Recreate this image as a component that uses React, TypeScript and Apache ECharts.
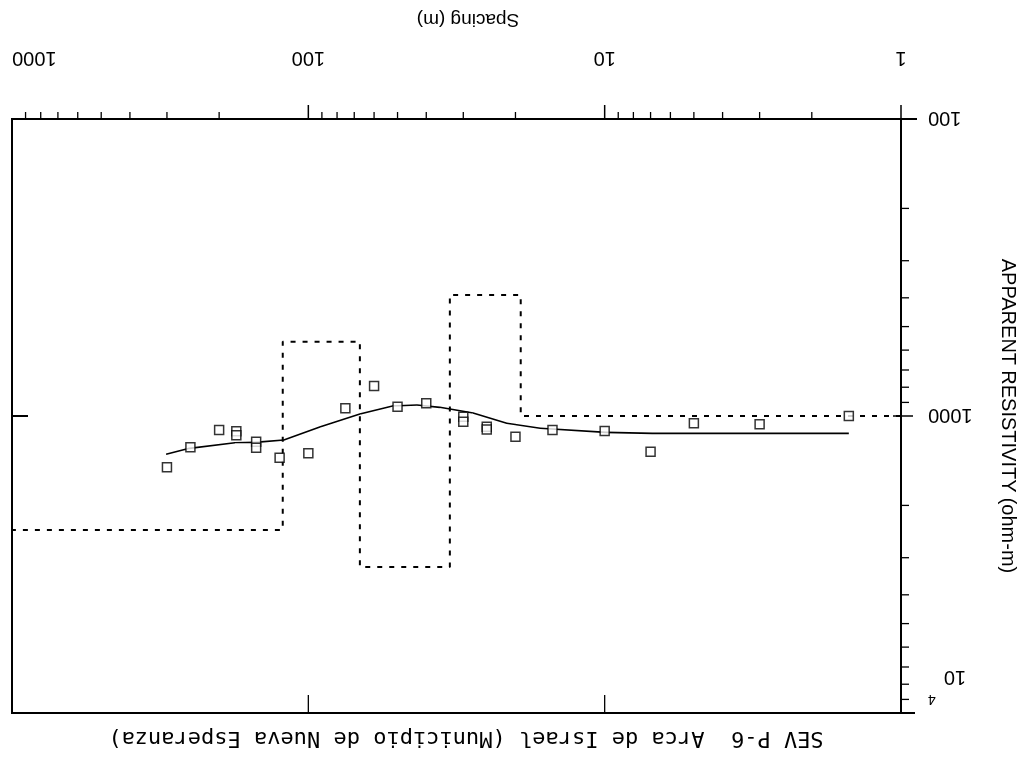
import React, { useEffect, useRef } from "react";
import * as echarts from "echarts";

// Observed apparent resistivity (Schlumberger AB/2 spacing, m ; ohm-m)
const spacing = [1.5, 3, 5, 7, 10, 15, 20, 25, 25, 30, 30, 40, 50, 60, 75, 100, 125, 150, 150, 175, 175, 200, 250, 300];
const apparentRes = [1000, 1066, 1058, 1319, 1123, 1115, 1174, 1086, 1110, 1006, 1045, 906, 930, 792, 942, 1336, 1382, 1221, 1279, 1125, 1160, 1115, 1275, 1489];

// Calculated (model) curve
const modelSpacing = [1.5, 6.9, 9.9, 16.5, 21.4, 27.8, 36, 43, 52, 67, 91, 121, 151, 177, 252, 302];
const modelRes = [1144, 1144, 1135, 1100, 1058, 977, 935, 918, 925, 985, 1086, 1205, 1227, 1230, 1285, 1346];

// Layered model
const layerRes = [1000, 391, 3224, 562, 2420];
const layerDepth = [19.2, 33.3, 67, 122];

// Axis ranges / ticks
const xMin = 1, xMax = 1000;
const yMin = 100, yMax = 10000;
const xDecades = [1, 10, 100];
const yDecades = [100, 1000];
const minorMult = [2, 3, 4, 5, 6, 7, 8, 9];

const titleText = "SEV P-6  Arca de Israel (Municipio de Nueva Esperanza)";
const xTitle = "Spacing (m)";
const yTitle = "APPARENT RESISTIVITY (ohm-m)";

const FONT = "'Liberation Sans', Arial, Helvetica, sans-serif";

function tickSeries(points: number[][], off: number[], width: number) {
  return {
    type: "custom",
    coordinateSystem: "cartesian2d",
    silent: true,
    clip: false,
    z: 5,
    data: points,
    renderItem: (_p: any, api: any) => {
      const c = api.coord([api.value(0), api.value(1)]);
      return {
        type: "line",
        shape: { x1: c[0] + off[0], y1: c[1] + off[1], x2: c[0] + off[2], y2: c[1] + off[3] },
        style: { stroke: "#000", lineWidth: width },
      };
    },
  };
}

export default function App() {
  const ref = useRef<HTMLDivElement>(null);
  useEffect(() => {
    if (!ref.current) return;
    const chart = echarts.init(ref.current, null, { renderer: "svg" });

    const obs = spacing.map((s, i) => [s, apparentRes[i]]);
    const model = modelSpacing.map((s, i) => [s, modelRes[i]]);
    const layers: number[][] = [];
    let start = xMin;
    layerRes.forEach((r, i) => {
      const end = i < layerDepth.length ? layerDepth[i] : xMax;
      layers.push([start, r]);
      layers.push([end, r]);
      start = end;
    });

    const xMinor: number[][] = [];
    xDecades.forEach((d) => minorMult.forEach((m) => xMinor.push([d * m, yMin])));
    const yMinor: number[][] = [];
    yDecades.forEach((d) => minorMult.forEach((m) => yMinor.push([xMin, d * m])));

    chart.setOption({
      animation: false,
      backgroundColor: "#fff",
      grid: { left: 124, top: 50, width: 889, height: 594, show: true, borderColor: "#000", borderWidth: 2 },
      xAxis: {
        type: "log",
        logBase: 10,
        min: xMin,
        max: xMax,
        axisLine: { lineStyle: { color: "#000", width: 2 } },
        axisTick: { show: false },
        splitLine: { show: false },
        axisLabel: {
          color: "#000",
          fontSize: 20,
          fontFamily: FONT,
          margin: 50,
          showMinLabel: true,
          showMaxLabel: true,
          alignMaxLabel: "right",
          formatter: (v: number) => String(Math.round(v)),
        },
      },
      yAxis: {
        type: "log",
        logBase: 10,
        min: yMin,
        max: yMax,
        axisLine: { lineStyle: { color: "#000", width: 2 } },
        axisTick: { show: false },
        splitLine: { show: false },
        axisLabel: {
          color: "#000",
          fontSize: 20,
          fontFamily: FONT,
          margin: 27,
          showMinLabel: true,
          showMaxLabel: true,
          formatter: (v: number) => (Math.round(v) === 10000 ? "{b|10}{s|4}" : String(Math.round(v))),
          rich: {
            b: { fontSize: 20, fontFamily: FONT, color: "#000", padding: [70, 0, 0, 0] },
            s: { fontSize: 14, fontFamily: FONT, color: "#000", padding: [26, 0, 0, 8] },
          },
        },
      },
      graphic: [
        {
          type: "text",
          x: 559,
          y: 23,
          style: {
            text: titleText,
            fontSize: 22,
            fontFamily: "'DejaVu Sans Mono', monospace",
            fill: "#000",
            align: "center",
            verticalAlign: "middle",
            textAlign: "center",
            textVerticalAlign: "middle",
          },
        },
        {
          type: "text",
          x: 557,
          y: 742,
          style: {
            text: xTitle,
            fontSize: 19,
            fontFamily: FONT,
            fill: "#000",
            align: "center",
            verticalAlign: "middle",
            textAlign: "center",
            textVerticalAlign: "middle",
          },
        },
        {
          type: "text",
          x: 16,
          y: 347,
          rotation: Math.PI / 2,
          style: {
            text: yTitle,
            fontSize: 20,
            fontFamily: FONT,
            fill: "#000",
            align: "center",
            verticalAlign: "middle",
            textAlign: "center",
            textVerticalAlign: "middle",
          },
        },
      ],
      series: [
        {
          type: "line",
          data: layers,
          showSymbol: false,
          silent: true,
          lineStyle: { color: "#000", width: 2, type: [5, 7] },
          z: 2,
        },
        {
          type: "line",
          data: model,
          showSymbol: false,
          silent: true,
          lineStyle: { color: "#000", width: 1.6 },
          z: 3,
        },
        {
          type: "scatter",
          data: obs,
          symbol: "rect",
          symbolSize: 9,
          silent: true,
          itemStyle: { color: "#fff", borderColor: "#000", borderWidth: 1.5 },
          z: 4,
        },
        tickSeries(xMinor, [0, 0, 0, 7], 1.3),
        tickSeries([[1, yMin], [10, yMin], [100, yMin]], [0, 0, 0, 14], 1.5),
        tickSeries(yMinor, [0, 0, -8, 0], 1.3),
        tickSeries([[xMin, 1000]], [-12, 0, 8, 0], 1.5),
        tickSeries([[xMin, yMin]], [0, 0, -16, 0], 2),
        tickSeries([[xMin, yMax]], [0, 0, -14, 0], 2),
        tickSeries([[10, yMax], [100, yMax]], [0, 0, 0, 18], 1.3),
        tickSeries([[xMax, 1000]], [0, 0, -16, 0], 2),
      ],
    });
    return () => chart.dispose();
  }, []);

  return (
    <div
      ref={ref}
      style={{
        position: "fixed",
        left: 0,
        top: 0,
        width: 1025,
        height: 763,
        background: "#fff",
        transform: "rotate(180deg)",
      }}
    />
  );
}
